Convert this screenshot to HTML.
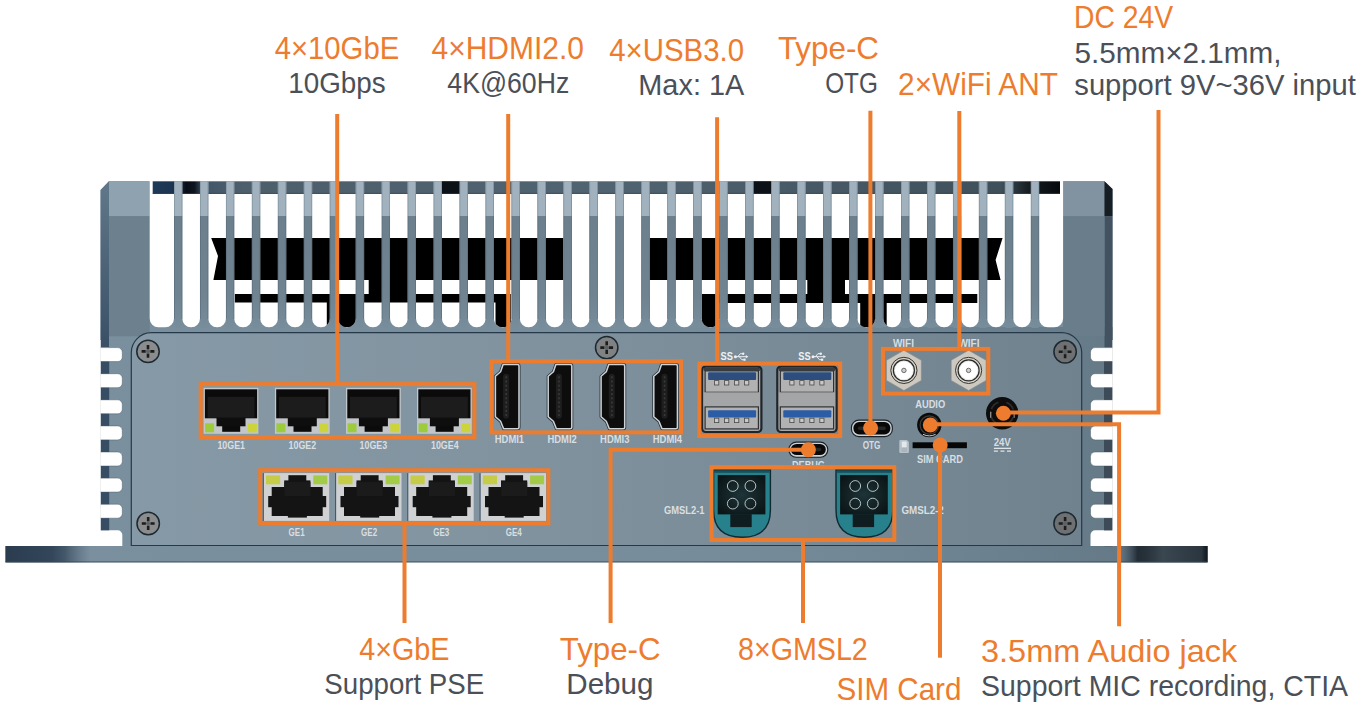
<!DOCTYPE html>
<html lang="en">
<head>
<meta charset="utf-8">
<title>Interface diagram</title>
<style>
html,body{margin:0;padding:0;background:#ffffff;}
body{width:1363px;height:718px;overflow:hidden;font-family:"Liberation Sans",sans-serif;}
svg{display:block;}
svg text{font-family:"Liberation Sans",sans-serif;}
</style>
</head>
<body>
<svg width="1363" height="718" viewBox="0 0 1363 718">
<defs>
<clipPath id="slotclip">
<rect x="149.7" y="170" width="24.3" height="157.3" rx="8.7" ry="8.7"/>
<rect x="182.3" y="170" width="17.7" height="157.3" rx="8.7" ry="8.7"/>
<rect x="208.3" y="170" width="17.7" height="157.3" rx="8.7" ry="8.7"/>
<rect x="234.2" y="170" width="17.7" height="157.3" rx="8.7" ry="8.7"/>
<rect x="260.2" y="170" width="17.7" height="157.3" rx="8.7" ry="8.7"/>
<rect x="286.2" y="170" width="17.7" height="157.3" rx="8.7" ry="8.7"/>
<rect x="312.1" y="170" width="17.7" height="157.3" rx="8.7" ry="8.7"/>
<rect x="338.1" y="170" width="17.7" height="157.3" rx="8.7" ry="8.7"/>
<rect x="364.1" y="170" width="17.7" height="157.3" rx="8.7" ry="8.7"/>
<rect x="390.0" y="170" width="17.7" height="157.3" rx="8.7" ry="8.7"/>
<rect x="416.0" y="170" width="17.7" height="157.3" rx="8.7" ry="8.7"/>
<rect x="441.9" y="170" width="17.7" height="157.3" rx="8.7" ry="8.7"/>
<rect x="467.9" y="170" width="17.7" height="157.3" rx="8.7" ry="8.7"/>
<rect x="493.9" y="170" width="17.7" height="157.3" rx="8.7" ry="8.7"/>
<rect x="519.8" y="170" width="17.7" height="157.3" rx="8.7" ry="8.7"/>
<rect x="545.8" y="170" width="17.7" height="157.3" rx="8.7" ry="8.7"/>
<rect x="571.8" y="170" width="17.7" height="157.3" rx="8.7" ry="8.7"/>
<rect x="597.7" y="170" width="17.7" height="157.3" rx="8.7" ry="8.7"/>
<rect x="623.7" y="170" width="17.7" height="157.3" rx="8.7" ry="8.7"/>
<rect x="649.7" y="170" width="17.7" height="157.3" rx="8.7" ry="8.7"/>
<rect x="675.6" y="170" width="17.7" height="157.3" rx="8.7" ry="8.7"/>
<rect x="701.6" y="170" width="17.7" height="157.3" rx="8.7" ry="8.7"/>
<rect x="727.6" y="170" width="17.7" height="157.3" rx="8.7" ry="8.7"/>
<rect x="753.5" y="170" width="17.7" height="157.3" rx="8.7" ry="8.7"/>
<rect x="779.5" y="170" width="17.7" height="157.3" rx="8.7" ry="8.7"/>
<rect x="805.5" y="170" width="17.7" height="157.3" rx="8.7" ry="8.7"/>
<rect x="831.4" y="170" width="17.7" height="157.3" rx="8.7" ry="8.7"/>
<rect x="857.4" y="170" width="17.7" height="157.3" rx="8.7" ry="8.7"/>
<rect x="883.4" y="170" width="17.7" height="157.3" rx="8.7" ry="8.7"/>
<rect x="909.3" y="170" width="17.7" height="157.3" rx="8.7" ry="8.7"/>
<rect x="935.3" y="170" width="17.7" height="157.3" rx="8.7" ry="8.7"/>
<rect x="961.2" y="170" width="17.7" height="157.3" rx="8.7" ry="8.7"/>
<rect x="987.2" y="170" width="17.7" height="157.3" rx="8.7" ry="8.7"/>
<rect x="1013.2" y="170" width="17.7" height="157.3" rx="8.7" ry="8.7"/>
<rect x="1039.1" y="170" width="24.0" height="157.3" rx="8.7" ry="8.7"/>
</clipPath>
<linearGradient id="plateL" x1="0" x2="1" y1="0" y2="0"><stop offset="0" stop-color="#2b3c4f"/><stop offset="0.55" stop-color="#33465a"/><stop offset="0.7" stop-color="#3a4e61" stop-opacity="0.85"/><stop offset="1" stop-color="#4a5f70" stop-opacity="0"/></linearGradient>
<linearGradient id="plateR" x1="0" x2="1" y1="0" y2="0"><stop offset="0" stop-color="#4a5a66" stop-opacity="0"/><stop offset="0.22" stop-color="#222d36"/><stop offset="0.32" stop-color="#27323b"/><stop offset="0.5" stop-color="#3a4650"/><stop offset="0.93" stop-color="#2b363f"/><stop offset="1" stop-color="#10161b"/></linearGradient>
<linearGradient id="bandG" x1="0" x2="1" y1="0" y2="0"><stop offset="0" stop-color="#1e3a58"/><stop offset="0.027" stop-color="#1b3350"/><stop offset="0.037" stop-color="#070d16"/><stop offset="0.046" stop-color="#0d1620"/><stop offset="0.056" stop-color="#43566a"/><stop offset="0.1" stop-color="#4d5f6b"/><stop offset="0.5" stop-color="#506370"/><stop offset="0.935" stop-color="#3f505b"/><stop offset="0.965" stop-color="#161d23"/><stop offset="1" stop-color="#070a0d"/></linearGradient>
<linearGradient id="panelG" gradientUnits="userSpaceOnUse" x1="131" x2="1082" y1="0" y2="0"><stop offset="0" stop-color="#8699a6"/><stop offset="0.35" stop-color="#8194a0"/><stop offset="0.65" stop-color="#798c98"/><stop offset="1" stop-color="#6f828e"/></linearGradient>
<radialGradient id="gmslG" cx="0.5" cy="0.5" r="0.6"><stop offset="0" stop-color="#1d3438"/><stop offset="1" stop-color="#0c1618"/></radialGradient>
<linearGradient id="bodyG" gradientUnits="userSpaceOnUse" x1="0" x2="0" y1="181" y2="546"><stop offset="0" stop-color="#6c808d"/><stop offset="0.30" stop-color="#6e828f"/><stop offset="0.40" stop-color="#788E9D"/><stop offset="1" stop-color="#788E9D"/></linearGradient>
<linearGradient id="stripL" gradientUnits="userSpaceOnUse" x1="0" x2="0" y1="190" y2="345"><stop offset="0" stop-color="#5f7688"/><stop offset="1" stop-color="#3a5067"/></linearGradient>
<linearGradient id="finG" gradientUnits="userSpaceOnUse" x1="0" x2="0" y1="216" y2="330"><stop offset="0" stop-color="#6c7f8c"/><stop offset="0.7" stop-color="#6f8390"/><stop offset="1" stop-color="#788E9D"/></linearGradient>
<linearGradient id="bodyH" gradientUnits="userSpaceOnUse" x1="100" x2="1112" y1="0" y2="0"><stop offset="0" stop-color="#8093a1" stop-opacity="0.35"/><stop offset="0.4" stop-color="#788E9D" stop-opacity="0"/><stop offset="1" stop-color="#5f7380" stop-opacity="0.75"/></linearGradient>
</defs>
<rect x="5.5" y="546" width="1202" height="16.3" fill="#788E9D"/>
<path d="M100.6 190 L109 181.3 L1104.5 181.3 L1112.5 189 L1112.5 546.3 L100.6 546.3 Z" fill="url(#bodyG)"/>
<rect x="100.6" y="327" width="1012" height="219.3" fill="url(#bodyH)"/>
<rect x="5.5" y="546" width="1202" height="16.3" fill="url(#bodyH)"/>
<rect x="5.5" y="546" width="85" height="16.3" fill="url(#plateL)"/>
<rect x="1118" y="546" width="89.6" height="16.3" fill="url(#plateR)"/>
<rect x="5.5" y="561.3" width="1202" height="1.2" fill="#3a4a56" opacity="0.7"/>
<rect x="109" y="181.3" width="40.7" height="35" fill="#8FA2AF"/>
<path d="M100.6 190 L109 181.3 L109 347 L100.6 347 Z" fill="url(#stripL)"/>
<rect x="109" y="216.3" width="40.7" height="120" fill="#6c808d"/>
<rect x="1063.1" y="181.3" width="41.4" height="35" fill="#8193A0"/>
<path d="M1104.5 181.3 L1112.5 189 L1112.5 216.3 L1104.5 216.3 Z" fill="#161d23"/>
<rect x="1104.5" y="216.3" width="8" height="330" fill="#435260"/>
<rect x="1063.1" y="216.3" width="41.4" height="120" fill="#697d8a"/>
<g clip-path="url(#slotclip)">
<rect x="149" y="181" width="915" height="147" fill="#ffffff"/>
<path d="M211.2 238 L563.5 238 L563.5 280 L414.7 280 L414.7 294 L510.8 294 L510.8 327 L495.5 327 L495.5 302.6 L356 302.6 L356 327 L326.8 327 L326.8 302.6 L234.8 302.6 L234.8 294 L368.7 294 L368.7 280 L213.4 280 L218 256 Z" fill="#000"/>
<path d="M649.3 238 L1002.6 238 L995.6 260 L1000.6 280 L845 280 L845 294 L977.3 294 L977.3 303 L886.7 303 L886.7 327 L860.2 327 L860.2 303 L716.7 303 L716.7 327 L701.9 327 L701.9 294 L807.3 294 L807.3 280 L649.3 280 Z" fill="#000"/>
<rect x="152.7" y="181.3" width="907.3" height="12.6" fill="url(#bandG)"/>
<rect x="441" y="181.3" width="19" height="12.6" fill="#0b1117"/>
<rect x="753" y="181.3" width="19" height="12.6" fill="#0b1117"/>
<rect x="152.7" y="192.9" width="907.3" height="1" fill="#2c3a45" opacity="0.6"/>
</g>
<rect x="174.00" y="181.3" width="8.3" height="35" fill="#7f929f"/>
<rect x="174.70" y="181.3" width="6.9" height="34.7" fill="#A1B2BE"/>
<rect x="174.00" y="216" width="8.3" height="103" fill="#5b6d7a"/>
<rect x="174.70" y="216" width="6.9" height="112" fill="url(#finG)"/>
<rect x="199.97" y="181.3" width="8.3" height="35" fill="#7f929f"/>
<rect x="200.66" y="181.3" width="6.9" height="34.7" fill="#A1B2BE"/>
<rect x="199.97" y="216" width="8.3" height="103" fill="#5b6d7a"/>
<rect x="200.66" y="216" width="6.9" height="112" fill="url(#finG)"/>
<rect x="225.93" y="181.3" width="8.3" height="35" fill="#7f929f"/>
<rect x="226.63" y="181.3" width="6.9" height="34.7" fill="#A1B2BE"/>
<rect x="225.93" y="216" width="8.3" height="103" fill="#5b6d7a"/>
<rect x="226.63" y="216" width="6.9" height="112" fill="url(#finG)"/>
<rect x="251.89" y="181.3" width="8.3" height="35" fill="#7f929f"/>
<rect x="252.59" y="181.3" width="6.9" height="34.7" fill="#A1B2BE"/>
<rect x="251.89" y="216" width="8.3" height="103" fill="#5b6d7a"/>
<rect x="252.59" y="216" width="6.9" height="112" fill="url(#finG)"/>
<rect x="277.86" y="181.3" width="8.3" height="35" fill="#7f929f"/>
<rect x="278.56" y="181.3" width="6.9" height="34.7" fill="#A1B2BE"/>
<rect x="277.86" y="216" width="8.3" height="103" fill="#5b6d7a"/>
<rect x="278.56" y="216" width="6.9" height="112" fill="url(#finG)"/>
<rect x="303.82" y="181.3" width="8.3" height="35" fill="#7f929f"/>
<rect x="304.52" y="181.3" width="6.9" height="34.7" fill="#A1B2BE"/>
<rect x="303.82" y="216" width="8.3" height="103" fill="#5b6d7a"/>
<rect x="304.52" y="216" width="6.9" height="112" fill="url(#finG)"/>
<rect x="329.79" y="181.3" width="8.3" height="35" fill="#7f929f"/>
<rect x="330.49" y="181.3" width="6.9" height="34.7" fill="#A1B2BE"/>
<rect x="329.79" y="216" width="8.3" height="103" fill="#5b6d7a"/>
<rect x="330.49" y="216" width="6.9" height="112" fill="url(#finG)"/>
<rect x="355.75" y="181.3" width="8.3" height="35" fill="#7f929f"/>
<rect x="356.45" y="181.3" width="6.9" height="34.7" fill="#A1B2BE"/>
<rect x="355.75" y="216" width="8.3" height="103" fill="#5b6d7a"/>
<rect x="356.45" y="216" width="6.9" height="112" fill="url(#finG)"/>
<rect x="381.72" y="181.3" width="8.3" height="35" fill="#7f929f"/>
<rect x="382.42" y="181.3" width="6.9" height="34.7" fill="#A1B2BE"/>
<rect x="381.72" y="216" width="8.3" height="103" fill="#5b6d7a"/>
<rect x="382.42" y="216" width="6.9" height="112" fill="url(#finG)"/>
<rect x="407.69" y="181.3" width="8.3" height="35" fill="#7f929f"/>
<rect x="408.38" y="181.3" width="6.9" height="34.7" fill="#A1B2BE"/>
<rect x="407.69" y="216" width="8.3" height="103" fill="#5b6d7a"/>
<rect x="408.38" y="216" width="6.9" height="112" fill="url(#finG)"/>
<rect x="433.65" y="181.3" width="8.3" height="35" fill="#7f929f"/>
<rect x="434.35" y="181.3" width="6.9" height="34.7" fill="#A1B2BE"/>
<rect x="433.65" y="216" width="8.3" height="103" fill="#5b6d7a"/>
<rect x="434.35" y="216" width="6.9" height="112" fill="url(#finG)"/>
<rect x="459.62" y="181.3" width="8.3" height="35" fill="#7f929f"/>
<rect x="460.31" y="181.3" width="6.9" height="34.7" fill="#A1B2BE"/>
<rect x="459.62" y="216" width="8.3" height="103" fill="#5b6d7a"/>
<rect x="460.31" y="216" width="6.9" height="112" fill="url(#finG)"/>
<rect x="485.58" y="181.3" width="8.3" height="35" fill="#7f929f"/>
<rect x="486.28" y="181.3" width="6.9" height="34.7" fill="#A1B2BE"/>
<rect x="485.58" y="216" width="8.3" height="103" fill="#5b6d7a"/>
<rect x="486.28" y="216" width="6.9" height="112" fill="url(#finG)"/>
<rect x="511.55" y="181.3" width="8.3" height="35" fill="#7f929f"/>
<rect x="512.25" y="181.3" width="6.9" height="34.7" fill="#A1B2BE"/>
<rect x="511.55" y="216" width="8.3" height="103" fill="#5b6d7a"/>
<rect x="512.25" y="216" width="6.9" height="112" fill="url(#finG)"/>
<rect x="537.51" y="181.3" width="8.3" height="35" fill="#7f929f"/>
<rect x="538.21" y="181.3" width="6.9" height="34.7" fill="#A1B2BE"/>
<rect x="537.51" y="216" width="8.3" height="103" fill="#5b6d7a"/>
<rect x="538.21" y="216" width="6.9" height="112" fill="url(#finG)"/>
<rect x="563.48" y="181.3" width="8.3" height="35" fill="#7f929f"/>
<rect x="564.18" y="181.3" width="6.9" height="34.7" fill="#A1B2BE"/>
<rect x="563.48" y="216" width="8.3" height="103" fill="#5b6d7a"/>
<rect x="564.18" y="216" width="6.9" height="112" fill="url(#finG)"/>
<rect x="589.44" y="181.3" width="8.3" height="35" fill="#7f929f"/>
<rect x="590.14" y="181.3" width="6.9" height="34.7" fill="#A1B2BE"/>
<rect x="589.44" y="216" width="8.3" height="103" fill="#5b6d7a"/>
<rect x="590.14" y="216" width="6.9" height="112" fill="url(#finG)"/>
<rect x="615.40" y="181.3" width="8.3" height="35" fill="#7f929f"/>
<rect x="616.11" y="181.3" width="6.9" height="34.7" fill="#A1B2BE"/>
<rect x="615.40" y="216" width="8.3" height="103" fill="#5b6d7a"/>
<rect x="616.11" y="216" width="6.9" height="112" fill="url(#finG)"/>
<rect x="641.37" y="181.3" width="8.3" height="35" fill="#7f929f"/>
<rect x="642.07" y="181.3" width="6.9" height="34.7" fill="#A1B2BE"/>
<rect x="641.37" y="216" width="8.3" height="103" fill="#5b6d7a"/>
<rect x="642.07" y="216" width="6.9" height="112" fill="url(#finG)"/>
<rect x="667.34" y="181.3" width="8.3" height="35" fill="#7f929f"/>
<rect x="668.04" y="181.3" width="6.9" height="34.7" fill="#A1B2BE"/>
<rect x="667.34" y="216" width="8.3" height="103" fill="#5b6d7a"/>
<rect x="668.04" y="216" width="6.9" height="112" fill="url(#finG)"/>
<rect x="693.30" y="181.3" width="8.3" height="35" fill="#7f929f"/>
<rect x="694.00" y="181.3" width="6.9" height="34.7" fill="#A1B2BE"/>
<rect x="693.30" y="216" width="8.3" height="103" fill="#5b6d7a"/>
<rect x="694.00" y="216" width="6.9" height="112" fill="url(#finG)"/>
<rect x="719.26" y="181.3" width="8.3" height="35" fill="#7f929f"/>
<rect x="719.97" y="181.3" width="6.9" height="34.7" fill="#A1B2BE"/>
<rect x="719.26" y="216" width="8.3" height="103" fill="#5b6d7a"/>
<rect x="719.97" y="216" width="6.9" height="112" fill="url(#finG)"/>
<rect x="745.23" y="181.3" width="8.3" height="35" fill="#7f929f"/>
<rect x="745.93" y="181.3" width="6.9" height="34.7" fill="#A1B2BE"/>
<rect x="745.23" y="216" width="8.3" height="103" fill="#5b6d7a"/>
<rect x="745.93" y="216" width="6.9" height="112" fill="url(#finG)"/>
<rect x="771.20" y="181.3" width="8.3" height="35" fill="#7f929f"/>
<rect x="771.90" y="181.3" width="6.9" height="34.7" fill="#A1B2BE"/>
<rect x="771.20" y="216" width="8.3" height="103" fill="#5b6d7a"/>
<rect x="771.90" y="216" width="6.9" height="112" fill="url(#finG)"/>
<rect x="797.16" y="181.3" width="8.3" height="35" fill="#7f929f"/>
<rect x="797.86" y="181.3" width="6.9" height="34.7" fill="#A1B2BE"/>
<rect x="797.16" y="216" width="8.3" height="103" fill="#5b6d7a"/>
<rect x="797.86" y="216" width="6.9" height="112" fill="url(#finG)"/>
<rect x="823.12" y="181.3" width="8.3" height="35" fill="#7f929f"/>
<rect x="823.83" y="181.3" width="6.9" height="34.7" fill="#A1B2BE"/>
<rect x="823.12" y="216" width="8.3" height="103" fill="#5b6d7a"/>
<rect x="823.83" y="216" width="6.9" height="112" fill="url(#finG)"/>
<rect x="849.09" y="181.3" width="8.3" height="35" fill="#7f929f"/>
<rect x="849.79" y="181.3" width="6.9" height="34.7" fill="#A1B2BE"/>
<rect x="849.09" y="216" width="8.3" height="103" fill="#5b6d7a"/>
<rect x="849.79" y="216" width="6.9" height="112" fill="url(#finG)"/>
<rect x="875.05" y="181.3" width="8.3" height="35" fill="#7f929f"/>
<rect x="875.75" y="181.3" width="6.9" height="34.7" fill="#A1B2BE"/>
<rect x="875.05" y="216" width="8.3" height="103" fill="#5b6d7a"/>
<rect x="875.75" y="216" width="6.9" height="112" fill="url(#finG)"/>
<rect x="901.02" y="181.3" width="8.3" height="35" fill="#7f929f"/>
<rect x="901.72" y="181.3" width="6.9" height="34.7" fill="#A1B2BE"/>
<rect x="901.02" y="216" width="8.3" height="103" fill="#5b6d7a"/>
<rect x="901.72" y="216" width="6.9" height="112" fill="url(#finG)"/>
<rect x="926.99" y="181.3" width="8.3" height="35" fill="#7f929f"/>
<rect x="927.69" y="181.3" width="6.9" height="34.7" fill="#A1B2BE"/>
<rect x="926.99" y="216" width="8.3" height="103" fill="#5b6d7a"/>
<rect x="927.69" y="216" width="6.9" height="112" fill="url(#finG)"/>
<rect x="952.95" y="181.3" width="8.3" height="35" fill="#7f929f"/>
<rect x="953.65" y="181.3" width="6.9" height="34.7" fill="#A1B2BE"/>
<rect x="952.95" y="216" width="8.3" height="103" fill="#5b6d7a"/>
<rect x="953.65" y="216" width="6.9" height="112" fill="url(#finG)"/>
<rect x="978.91" y="181.3" width="8.3" height="35" fill="#7f929f"/>
<rect x="979.62" y="181.3" width="6.9" height="34.7" fill="#A1B2BE"/>
<rect x="978.91" y="216" width="8.3" height="103" fill="#5b6d7a"/>
<rect x="979.62" y="216" width="6.9" height="112" fill="url(#finG)"/>
<rect x="1004.88" y="181.3" width="8.3" height="35" fill="#7f929f"/>
<rect x="1005.58" y="181.3" width="6.9" height="34.7" fill="#A1B2BE"/>
<rect x="1004.88" y="216" width="8.3" height="103" fill="#5b6d7a"/>
<rect x="1005.58" y="216" width="6.9" height="112" fill="url(#finG)"/>
<rect x="1030.85" y="181.3" width="8.3" height="35" fill="#7f929f"/>
<rect x="1031.55" y="181.3" width="6.9" height="34.7" fill="#A1B2BE"/>
<rect x="1030.85" y="216" width="8.3" height="103" fill="#5b6d7a"/>
<rect x="1031.55" y="216" width="6.9" height="112" fill="url(#finG)"/>
<path d="M100 347.6 H117.7 a4.6 4.6 0 0 1 4.6 4.6 V357.0 a4.6 4.6 0 0 1 -4.6 4.6 H100 Z" fill="#fff" stroke="#4a5d6b" stroke-width="0.5"/>
<path d="M1113 347.6 H1095.1 a4.6 4.6 0 0 0 -4.6 4.6 V357.0 a4.6 4.6 0 0 0 4.6 4.6 H1113 Z" fill="#fff" stroke="#4a5d6b" stroke-width="0.5"/>
<path d="M100 373.7 H117.7 a4.6 4.6 0 0 1 4.6 4.6 V383.1 a4.6 4.6 0 0 1 -4.6 4.6 H100 Z" fill="#fff" stroke="#4a5d6b" stroke-width="0.5"/>
<path d="M1113 373.7 H1095.1 a4.6 4.6 0 0 0 -4.6 4.6 V383.1 a4.6 4.6 0 0 0 4.6 4.6 H1113 Z" fill="#fff" stroke="#4a5d6b" stroke-width="0.5"/>
<path d="M100 399.8 H117.7 a4.6 4.6 0 0 1 4.6 4.6 V409.2 a4.6 4.6 0 0 1 -4.6 4.6 H100 Z" fill="#fff" stroke="#4a5d6b" stroke-width="0.5"/>
<path d="M1113 399.8 H1095.1 a4.6 4.6 0 0 0 -4.6 4.6 V409.2 a4.6 4.6 0 0 0 4.6 4.6 H1113 Z" fill="#fff" stroke="#4a5d6b" stroke-width="0.5"/>
<path d="M100 425.9 H117.7 a4.6 4.6 0 0 1 4.6 4.6 V435.3 a4.6 4.6 0 0 1 -4.6 4.6 H100 Z" fill="#fff" stroke="#4a5d6b" stroke-width="0.5"/>
<path d="M1113 425.9 H1095.1 a4.6 4.6 0 0 0 -4.6 4.6 V435.3 a4.6 4.6 0 0 0 4.6 4.6 H1113 Z" fill="#fff" stroke="#4a5d6b" stroke-width="0.5"/>
<path d="M100 452.0 H117.7 a4.6 4.6 0 0 1 4.6 4.6 V461.4 a4.6 4.6 0 0 1 -4.6 4.6 H100 Z" fill="#fff" stroke="#4a5d6b" stroke-width="0.5"/>
<path d="M1113 452.0 H1095.1 a4.6 4.6 0 0 0 -4.6 4.6 V461.4 a4.6 4.6 0 0 0 4.6 4.6 H1113 Z" fill="#fff" stroke="#4a5d6b" stroke-width="0.5"/>
<path d="M100 478.1 H117.7 a4.6 4.6 0 0 1 4.6 4.6 V487.5 a4.6 4.6 0 0 1 -4.6 4.6 H100 Z" fill="#fff" stroke="#4a5d6b" stroke-width="0.5"/>
<path d="M1113 478.1 H1095.1 a4.6 4.6 0 0 0 -4.6 4.6 V487.5 a4.6 4.6 0 0 0 4.6 4.6 H1113 Z" fill="#fff" stroke="#4a5d6b" stroke-width="0.5"/>
<path d="M100 504.2 H117.7 a4.6 4.6 0 0 1 4.6 4.6 V513.6 a4.6 4.6 0 0 1 -4.6 4.6 H100 Z" fill="#fff" stroke="#4a5d6b" stroke-width="0.5"/>
<path d="M1113 504.2 H1095.1 a4.6 4.6 0 0 0 -4.6 4.6 V513.6 a4.6 4.6 0 0 0 4.6 4.6 H1113 Z" fill="#fff" stroke="#4a5d6b" stroke-width="0.5"/>
<path d="M100 530.3 H117.7 a4.6 4.6 0 0 1 4.6 4.6 V546 H100 Z" fill="#fff"/>
<path d="M1113 530.3 H1095.1 a4.6 4.6 0 0 0 -4.6 4.6 V546 H1113 Z" fill="#fff"/>
<rect x="100.6" y="361.6" width="8.6" height="12.1" fill="#364d63"/>
<rect x="1104" y="361.6" width="8.5" height="12.1" fill="#3d4b58"/>
<rect x="100.6" y="387.7" width="8.6" height="12.1" fill="#364d63"/>
<rect x="1104" y="387.7" width="8.5" height="12.1" fill="#3d4b58"/>
<rect x="100.6" y="413.8" width="8.6" height="12.1" fill="#364d63"/>
<rect x="1104" y="413.8" width="8.5" height="12.1" fill="#3d4b58"/>
<rect x="100.6" y="439.9" width="8.6" height="12.1" fill="#364d63"/>
<rect x="1104" y="439.9" width="8.5" height="12.1" fill="#3d4b58"/>
<rect x="100.6" y="466.0" width="8.6" height="12.1" fill="#364d63"/>
<rect x="1104" y="466.0" width="8.5" height="12.1" fill="#3d4b58"/>
<rect x="100.6" y="492.1" width="8.6" height="12.1" fill="#364d63"/>
<rect x="1104" y="492.1" width="8.5" height="12.1" fill="#3d4b58"/>
<rect x="100.6" y="518.2" width="8.6" height="12.1" fill="#364d63"/>
<rect x="1104" y="518.2" width="8.5" height="12.1" fill="#3d4b58"/>
<rect x="80" y="340" width="20.6" height="206" fill="#fff"/>
<rect x="1112.5" y="340" width="20" height="206" fill="#fff"/>
<path d="M131.3 545.5 L131.3 352.7 A20 20 0 0 1 151.3 332.7 L1061.7 332.7 A20 20 0 0 1 1081.7 352.7 L1081.7 545.5 Z" fill="url(#panelG)" stroke="#26394a" stroke-width="1.2"/>
<circle cx="148" cy="351.4" r="11.2" fill="#8a8c8d" stroke="#1c2830" stroke-width="1.5"/>
<path d="M141.6 351.4 H145.8 M150.2 351.4 H154.4 M148 345.0 V349.2 M148 353.59999999999997 V357.79999999999995" stroke="#1a1c1e" stroke-width="2.6"/>
<path d="M145.6 351.4 H150.4 M148 349.0 V353.79999999999995" stroke="#5e6062" stroke-width="2.2"/>
<circle cx="148.2" cy="523.5" r="11.2" fill="#8a8c8d" stroke="#1c2830" stroke-width="1.5"/>
<path d="M141.79999999999998 523.5 H146.0 M150.39999999999998 523.5 H154.6 M148.2 517.1 V521.3 M148.2 525.7 V529.9" stroke="#1a1c1e" stroke-width="2.6"/>
<path d="M145.79999999999998 523.5 H150.6 M148.2 521.1 V525.9" stroke="#5e6062" stroke-width="2.2"/>
<circle cx="606.7" cy="347.6" r="11.2" fill="#7f8182" stroke="#1c2830" stroke-width="1.5"/>
<path d="M600.3000000000001 347.6 H604.5 M608.9000000000001 347.6 H613.1 M606.7 341.20000000000005 V345.40000000000003 M606.7 349.8 V354.0" stroke="#1a1c1e" stroke-width="2.6"/>
<path d="M604.3000000000001 347.6 H609.1 M606.7 345.20000000000005 V350.0" stroke="#5e6062" stroke-width="2.2"/>
<circle cx="1065.1" cy="351.8" r="11.2" fill="#6e7072" stroke="#1c2830" stroke-width="1.5"/>
<path d="M1058.6999999999998 351.8 H1062.8999999999999 M1067.3 351.8 H1071.5 M1065.1 345.40000000000003 V349.6 M1065.1 354.0 V358.2" stroke="#1a1c1e" stroke-width="2.6"/>
<path d="M1062.6999999999998 351.8 H1067.5 M1065.1 349.40000000000003 V354.2" stroke="#5e6062" stroke-width="2.2"/>
<circle cx="1065.1" cy="523.5" r="11.2" fill="#6e7072" stroke="#1c2830" stroke-width="1.5"/>
<path d="M1058.6999999999998 523.5 H1062.8999999999999 M1067.3 523.5 H1071.5 M1065.1 517.1 V521.3 M1065.1 525.7 V529.9" stroke="#1a1c1e" stroke-width="2.6"/>
<path d="M1062.6999999999998 523.5 H1067.5 M1065.1 521.1 V525.9" stroke="#5e6062" stroke-width="2.2"/>
<rect x="203.6" y="387.8" width="54.8" height="46" fill="#c3c6c9"/>
<rect x="204.9" y="389.3" width="52.2" height="29" fill="#0b0b0b"/>
<rect x="207.6" y="396.8" width="46.8" height="21" fill="#1c1c1c"/>
<rect x="216.5" y="417.8" width="29" height="8.5" fill="#0e0e0e"/>
<rect x="222.2" y="425.8" width="18" height="6" fill="#0b0b0b"/>
<rect x="205.1" y="423.3" width="9" height="9" fill="#9ccb3c"/>
<rect x="247.89999999999998" y="423.3" width="9" height="9" fill="#cdd43a"/>
<text x="217.4" y="448.5" font-size="10.3" font-weight="bold" fill="#d9dee1" textLength="27.6" lengthAdjust="spacingAndGlyphs">10GE1</text>
<rect x="274.9" y="387.8" width="54.8" height="46" fill="#c3c6c9"/>
<rect x="276.2" y="389.3" width="52.2" height="29" fill="#0b0b0b"/>
<rect x="278.9" y="396.8" width="46.8" height="21" fill="#1c1c1c"/>
<rect x="287.79999999999995" y="417.8" width="29" height="8.5" fill="#0e0e0e"/>
<rect x="293.5" y="425.8" width="18" height="6" fill="#0b0b0b"/>
<rect x="276.4" y="423.3" width="9" height="9" fill="#9ccb3c"/>
<rect x="319.2" y="423.3" width="9" height="9" fill="#cdd43a"/>
<text x="288.6" y="448.5" font-size="10.3" font-weight="bold" fill="#d9dee1" textLength="27.6" lengthAdjust="spacingAndGlyphs">10GE2</text>
<rect x="346.0" y="387.8" width="54.8" height="46" fill="#c3c6c9"/>
<rect x="347.3" y="389.3" width="52.2" height="29" fill="#0b0b0b"/>
<rect x="350.0" y="396.8" width="46.8" height="21" fill="#1c1c1c"/>
<rect x="358.9" y="417.8" width="29" height="8.5" fill="#0e0e0e"/>
<rect x="364.6" y="425.8" width="18" height="6" fill="#0b0b0b"/>
<rect x="347.5" y="423.3" width="9" height="9" fill="#9ccb3c"/>
<rect x="390.3" y="423.3" width="9" height="9" fill="#cdd43a"/>
<text x="359.6" y="448.5" font-size="10.3" font-weight="bold" fill="#d9dee1" textLength="27.6" lengthAdjust="spacingAndGlyphs">10GE3</text>
<rect x="417.0" y="387.8" width="54.8" height="46" fill="#c3c6c9"/>
<rect x="418.3" y="389.3" width="52.2" height="29" fill="#0b0b0b"/>
<rect x="421.0" y="396.8" width="46.8" height="21" fill="#1c1c1c"/>
<rect x="429.9" y="417.8" width="29" height="8.5" fill="#0e0e0e"/>
<rect x="435.6" y="425.8" width="18" height="6" fill="#0b0b0b"/>
<rect x="418.5" y="423.3" width="9" height="9" fill="#9ccb3c"/>
<rect x="461.3" y="423.3" width="9" height="9" fill="#cdd43a"/>
<text x="431.0" y="448.5" font-size="10.3" font-weight="bold" fill="#d9dee1" textLength="27.6" lengthAdjust="spacingAndGlyphs">10GE4</text>
<rect x="262.7" y="473.1" width="1.4" height="47.8" fill="#44596b"/>
<rect x="263.9" y="473.1" width="65.3" height="47.8" fill="#cfd1d3"/>
<rect x="266.0" y="475.40000000000003" width="14.2" height="8.9" fill="#c6cc48"/>
<rect x="313.29999999999995" y="475.40000000000003" width="14" height="8.9" fill="#a2cc47"/>
<rect x="288.4" y="475.20000000000005" width="17.9" height="6" fill="#141414"/>
<rect x="284.2" y="480.40000000000003" width="26.2" height="7" fill="#141414"/>
<rect x="271.7" y="487.0" width="51" height="29" fill="#141414"/>
<rect x="268.2" y="496.0" width="58" height="11.2" fill="#141414"/>
<rect x="287.9" y="515.6" width="19" height="2" fill="#141414"/>
<rect x="284.4" y="482.1" width="26" height="14" fill="#1b1b1b"/>
<text x="288.6" y="536.1" font-size="10.3" font-weight="bold" fill="#d9dee1" textLength="16.0" lengthAdjust="spacingAndGlyphs">GE1</text>
<rect x="335.0" y="473.1" width="1.4" height="47.8" fill="#44596b"/>
<rect x="336.2" y="473.1" width="65.3" height="47.8" fill="#cfd1d3"/>
<rect x="338.3" y="475.40000000000003" width="14.2" height="8.9" fill="#c6cc48"/>
<rect x="385.59999999999997" y="475.40000000000003" width="14" height="8.9" fill="#a2cc47"/>
<rect x="360.7" y="475.20000000000005" width="17.9" height="6" fill="#141414"/>
<rect x="356.5" y="480.40000000000003" width="26.2" height="7" fill="#141414"/>
<rect x="344.0" y="487.0" width="51" height="29" fill="#141414"/>
<rect x="340.5" y="496.0" width="58" height="11.2" fill="#141414"/>
<rect x="360.2" y="515.6" width="19" height="2" fill="#141414"/>
<rect x="356.7" y="482.1" width="26" height="14" fill="#1b1b1b"/>
<text x="361.1" y="536.1" font-size="10.3" font-weight="bold" fill="#d9dee1" textLength="16.0" lengthAdjust="spacingAndGlyphs">GE2</text>
<rect x="407.2" y="473.1" width="1.4" height="47.8" fill="#44596b"/>
<rect x="408.4" y="473.1" width="65.3" height="47.8" fill="#cfd1d3"/>
<rect x="410.5" y="475.40000000000003" width="14.2" height="8.9" fill="#c6cc48"/>
<rect x="457.79999999999995" y="475.40000000000003" width="14" height="8.9" fill="#a2cc47"/>
<rect x="432.9" y="475.20000000000005" width="17.9" height="6" fill="#141414"/>
<rect x="428.7" y="480.40000000000003" width="26.2" height="7" fill="#141414"/>
<rect x="416.2" y="487.0" width="51" height="29" fill="#141414"/>
<rect x="412.7" y="496.0" width="58" height="11.2" fill="#141414"/>
<rect x="432.4" y="515.6" width="19" height="2" fill="#141414"/>
<rect x="428.9" y="482.1" width="26" height="14" fill="#1b1b1b"/>
<text x="433.3" y="536.1" font-size="10.3" font-weight="bold" fill="#d9dee1" textLength="16.0" lengthAdjust="spacingAndGlyphs">GE3</text>
<rect x="479.5" y="473.1" width="1.4" height="47.8" fill="#44596b"/>
<rect x="480.7" y="473.1" width="65.3" height="47.8" fill="#cfd1d3"/>
<rect x="482.8" y="475.40000000000003" width="14.2" height="8.9" fill="#c6cc48"/>
<rect x="530.1" y="475.40000000000003" width="14" height="8.9" fill="#a2cc47"/>
<rect x="505.2" y="475.20000000000005" width="17.9" height="6" fill="#141414"/>
<rect x="501.0" y="480.40000000000003" width="26.2" height="7" fill="#141414"/>
<rect x="488.5" y="487.0" width="51" height="29" fill="#141414"/>
<rect x="485.0" y="496.0" width="58" height="11.2" fill="#141414"/>
<rect x="504.7" y="515.6" width="19" height="2" fill="#141414"/>
<rect x="501.2" y="482.1" width="26" height="14" fill="#1b1b1b"/>
<text x="505.8" y="536.1" font-size="10.3" font-weight="bold" fill="#d9dee1" textLength="16.0" lengthAdjust="spacingAndGlyphs">GE4</text>
<path d="M503.1 364.40000000000003 H517.5 Q519.0 364.40000000000003 519.0 365.90000000000003 V427.2 Q519.0 428.7 517.5 428.7 H503.6 L500.6 421.3 L495.40000000000003 416.8 V376.3 L500.6 371.8 Z" fill="none" stroke="#27313a" stroke-width="3" stroke-linejoin="round"/>
<path d="M503.1 364.40000000000003 H517.5 Q519.0 364.40000000000003 519.0 365.90000000000003 V427.2 Q519.0 428.7 517.5 428.7 H503.6 L500.6 421.3 L495.40000000000003 416.8 V376.3 L500.6 371.8 Z" fill="#0d0d0d" stroke="#cfd2d4" stroke-width="1.5" stroke-linejoin="round"/>
<rect x="503.1" y="373.8" width="6" height="45" rx="3" fill="#1e1e1e"/>
<rect x="505.40000000000003" y="376.3" width="1.6" height="2" fill="#3a3a3a"/>
<rect x="505.40000000000003" y="380.5" width="1.6" height="2" fill="#3a3a3a"/>
<rect x="505.40000000000003" y="384.7" width="1.6" height="2" fill="#3a3a3a"/>
<rect x="505.40000000000003" y="388.9" width="1.6" height="2" fill="#3a3a3a"/>
<rect x="505.40000000000003" y="393.1" width="1.6" height="2" fill="#3a3a3a"/>
<rect x="505.40000000000003" y="397.3" width="1.6" height="2" fill="#3a3a3a"/>
<rect x="505.40000000000003" y="401.5" width="1.6" height="2" fill="#3a3a3a"/>
<rect x="505.40000000000003" y="405.7" width="1.6" height="2" fill="#3a3a3a"/>
<rect x="505.40000000000003" y="409.9" width="1.6" height="2" fill="#3a3a3a"/>
<rect x="505.40000000000003" y="414.1" width="1.6" height="2" fill="#3a3a3a"/>
<text x="494.8" y="443.2" font-size="10.3" font-weight="bold" fill="#d9dee1" textLength="29.3" lengthAdjust="spacingAndGlyphs">HDMI1</text>
<path d="M555.9 364.40000000000003 H570.3 Q571.8 364.40000000000003 571.8 365.90000000000003 V427.2 Q571.8 428.7 570.3 428.7 H556.4 L553.4 421.3 L548.1999999999999 416.8 V376.3 L553.4 371.8 Z" fill="none" stroke="#27313a" stroke-width="3" stroke-linejoin="round"/>
<path d="M555.9 364.40000000000003 H570.3 Q571.8 364.40000000000003 571.8 365.90000000000003 V427.2 Q571.8 428.7 570.3 428.7 H556.4 L553.4 421.3 L548.1999999999999 416.8 V376.3 L553.4 371.8 Z" fill="#0d0d0d" stroke="#cfd2d4" stroke-width="1.5" stroke-linejoin="round"/>
<rect x="555.9" y="373.8" width="6" height="45" rx="3" fill="#1e1e1e"/>
<rect x="558.1999999999999" y="376.3" width="1.6" height="2" fill="#3a3a3a"/>
<rect x="558.1999999999999" y="380.5" width="1.6" height="2" fill="#3a3a3a"/>
<rect x="558.1999999999999" y="384.7" width="1.6" height="2" fill="#3a3a3a"/>
<rect x="558.1999999999999" y="388.9" width="1.6" height="2" fill="#3a3a3a"/>
<rect x="558.1999999999999" y="393.1" width="1.6" height="2" fill="#3a3a3a"/>
<rect x="558.1999999999999" y="397.3" width="1.6" height="2" fill="#3a3a3a"/>
<rect x="558.1999999999999" y="401.5" width="1.6" height="2" fill="#3a3a3a"/>
<rect x="558.1999999999999" y="405.7" width="1.6" height="2" fill="#3a3a3a"/>
<rect x="558.1999999999999" y="409.9" width="1.6" height="2" fill="#3a3a3a"/>
<rect x="558.1999999999999" y="414.1" width="1.6" height="2" fill="#3a3a3a"/>
<text x="547.5" y="443.2" font-size="10.3" font-weight="bold" fill="#d9dee1" textLength="29.3" lengthAdjust="spacingAndGlyphs">HDMI2</text>
<path d="M608.8 364.40000000000003 H623.1999999999999 Q624.6999999999999 364.40000000000003 624.6999999999999 365.90000000000003 V427.2 Q624.6999999999999 428.7 623.1999999999999 428.7 H609.3 L606.3 421.3 L601.0999999999999 416.8 V376.3 L606.3 371.8 Z" fill="none" stroke="#27313a" stroke-width="3" stroke-linejoin="round"/>
<path d="M608.8 364.40000000000003 H623.1999999999999 Q624.6999999999999 364.40000000000003 624.6999999999999 365.90000000000003 V427.2 Q624.6999999999999 428.7 623.1999999999999 428.7 H609.3 L606.3 421.3 L601.0999999999999 416.8 V376.3 L606.3 371.8 Z" fill="#0d0d0d" stroke="#cfd2d4" stroke-width="1.5" stroke-linejoin="round"/>
<rect x="608.8" y="373.8" width="6" height="45" rx="3" fill="#1e1e1e"/>
<rect x="611.0999999999999" y="376.3" width="1.6" height="2" fill="#3a3a3a"/>
<rect x="611.0999999999999" y="380.5" width="1.6" height="2" fill="#3a3a3a"/>
<rect x="611.0999999999999" y="384.7" width="1.6" height="2" fill="#3a3a3a"/>
<rect x="611.0999999999999" y="388.9" width="1.6" height="2" fill="#3a3a3a"/>
<rect x="611.0999999999999" y="393.1" width="1.6" height="2" fill="#3a3a3a"/>
<rect x="611.0999999999999" y="397.3" width="1.6" height="2" fill="#3a3a3a"/>
<rect x="611.0999999999999" y="401.5" width="1.6" height="2" fill="#3a3a3a"/>
<rect x="611.0999999999999" y="405.7" width="1.6" height="2" fill="#3a3a3a"/>
<rect x="611.0999999999999" y="409.9" width="1.6" height="2" fill="#3a3a3a"/>
<rect x="611.0999999999999" y="414.1" width="1.6" height="2" fill="#3a3a3a"/>
<text x="600.1" y="443.2" font-size="10.3" font-weight="bold" fill="#d9dee1" textLength="29.3" lengthAdjust="spacingAndGlyphs">HDMI3</text>
<path d="M661.5 364.40000000000003 H675.9 Q677.4 364.40000000000003 677.4 365.90000000000003 V427.2 Q677.4 428.7 675.9 428.7 H662.0 L659.0 421.3 L653.8 416.8 V376.3 L659.0 371.8 Z" fill="none" stroke="#27313a" stroke-width="3" stroke-linejoin="round"/>
<path d="M661.5 364.40000000000003 H675.9 Q677.4 364.40000000000003 677.4 365.90000000000003 V427.2 Q677.4 428.7 675.9 428.7 H662.0 L659.0 421.3 L653.8 416.8 V376.3 L659.0 371.8 Z" fill="#0d0d0d" stroke="#cfd2d4" stroke-width="1.5" stroke-linejoin="round"/>
<rect x="661.5" y="373.8" width="6" height="45" rx="3" fill="#1e1e1e"/>
<rect x="663.8" y="376.3" width="1.6" height="2" fill="#3a3a3a"/>
<rect x="663.8" y="380.5" width="1.6" height="2" fill="#3a3a3a"/>
<rect x="663.8" y="384.7" width="1.6" height="2" fill="#3a3a3a"/>
<rect x="663.8" y="388.9" width="1.6" height="2" fill="#3a3a3a"/>
<rect x="663.8" y="393.1" width="1.6" height="2" fill="#3a3a3a"/>
<rect x="663.8" y="397.3" width="1.6" height="2" fill="#3a3a3a"/>
<rect x="663.8" y="401.5" width="1.6" height="2" fill="#3a3a3a"/>
<rect x="663.8" y="405.7" width="1.6" height="2" fill="#3a3a3a"/>
<rect x="663.8" y="409.9" width="1.6" height="2" fill="#3a3a3a"/>
<rect x="663.8" y="414.1" width="1.6" height="2" fill="#3a3a3a"/>
<text x="652.8" y="443.2" font-size="10.3" font-weight="bold" fill="#d9dee1" textLength="29.3" lengthAdjust="spacingAndGlyphs">HDMI4</text>
<rect x="702.1" y="366.6" width="59.3" height="65.4" rx="3.5" fill="#a8a8a8" stroke="#20252a" stroke-width="2.2"/>
<rect x="703.6" y="367.90000000000003" width="56.3" height="3" fill="#3a3d40"/>
<rect x="705.1" y="370.90000000000003" width="53.3" height="21.4" fill="#b2b2b2" stroke="#2e3235" stroke-width="1.2"/>
<rect x="708.1" y="372.20000000000005" width="48" height="7.8" rx="1" fill="#2d4d7f"/>
<rect x="703.6" y="392.3" width="56.3" height="13.6" fill="#a4a5a6"/>
<rect x="705.1" y="406.90000000000003" width="53.3" height="22" fill="#b2b2b2" stroke="#2e3235" stroke-width="1.2"/>
<rect x="708.1" y="410.20000000000005" width="48" height="7.4" rx="1" fill="#2b5ca6"/>
<rect x="714.6" y="380.6" width="4.2" height="4.4" fill="#c9c9c9" stroke="#4a4a4a" stroke-width="0.8"/>
<rect x="714.6" y="418.20000000000005" width="4.2" height="4.4" fill="#c9c9c9" stroke="#4a4a4a" stroke-width="0.8"/>
<rect x="724.6" y="380.6" width="4.2" height="4.4" fill="#c9c9c9" stroke="#4a4a4a" stroke-width="0.8"/>
<rect x="724.6" y="418.20000000000005" width="4.2" height="4.4" fill="#c9c9c9" stroke="#4a4a4a" stroke-width="0.8"/>
<rect x="734.6" y="380.6" width="4.2" height="4.4" fill="#c9c9c9" stroke="#4a4a4a" stroke-width="0.8"/>
<rect x="734.6" y="418.20000000000005" width="4.2" height="4.4" fill="#c9c9c9" stroke="#4a4a4a" stroke-width="0.8"/>
<rect x="744.6" y="380.6" width="4.2" height="4.4" fill="#c9c9c9" stroke="#4a4a4a" stroke-width="0.8"/>
<rect x="744.6" y="418.20000000000005" width="4.2" height="4.4" fill="#c9c9c9" stroke="#4a4a4a" stroke-width="0.8"/>
<rect x="777.3" y="366.6" width="59.3" height="65.4" rx="3.5" fill="#a8a8a8" stroke="#20252a" stroke-width="2.2"/>
<rect x="778.8" y="367.90000000000003" width="56.3" height="3" fill="#3a3d40"/>
<rect x="780.3" y="370.90000000000003" width="53.3" height="21.4" fill="#b2b2b2" stroke="#2e3235" stroke-width="1.2"/>
<rect x="783.3" y="372.20000000000005" width="48" height="7.8" rx="1" fill="#2d4d7f"/>
<rect x="778.8" y="392.3" width="56.3" height="13.6" fill="#a4a5a6"/>
<rect x="780.3" y="406.90000000000003" width="53.3" height="22" fill="#b2b2b2" stroke="#2e3235" stroke-width="1.2"/>
<rect x="783.3" y="410.20000000000005" width="48" height="7.4" rx="1" fill="#2b5ca6"/>
<rect x="789.8" y="380.6" width="4.2" height="4.4" fill="#c9c9c9" stroke="#4a4a4a" stroke-width="0.8"/>
<rect x="789.8" y="418.20000000000005" width="4.2" height="4.4" fill="#c9c9c9" stroke="#4a4a4a" stroke-width="0.8"/>
<rect x="799.8" y="380.6" width="4.2" height="4.4" fill="#c9c9c9" stroke="#4a4a4a" stroke-width="0.8"/>
<rect x="799.8" y="418.20000000000005" width="4.2" height="4.4" fill="#c9c9c9" stroke="#4a4a4a" stroke-width="0.8"/>
<rect x="809.8" y="380.6" width="4.2" height="4.4" fill="#c9c9c9" stroke="#4a4a4a" stroke-width="0.8"/>
<rect x="809.8" y="418.20000000000005" width="4.2" height="4.4" fill="#c9c9c9" stroke="#4a4a4a" stroke-width="0.8"/>
<rect x="819.8" y="380.6" width="4.2" height="4.4" fill="#c9c9c9" stroke="#4a4a4a" stroke-width="0.8"/>
<rect x="819.8" y="418.20000000000005" width="4.2" height="4.4" fill="#c9c9c9" stroke="#4a4a4a" stroke-width="0.8"/>
<text x="720.6" y="360.1" font-size="11.3" font-weight="bold" fill="#eef1f3" textLength="12.4" lengthAdjust="spacingAndGlyphs">SS</text>
<g stroke="#eef1f3" stroke-width="1" fill="#eef1f3"><path d="M735.3000000000001 356.70000000000005 H746.3000000000001" fill="none"/><circle cx="735.4000000000001" cy="356.70000000000005" r="1.5" stroke="none"/><path d="M745.8000000000001 355.1 L748.4000000000001 356.70000000000005 L745.8000000000001 358.30000000000007 Z" stroke="none"/><path d="M737.8000000000001 356.70000000000005 L740.3000000000001 353.70000000000005 H742.8000000000001" fill="none"/><circle cx="743.2" cy="353.70000000000005" r="1.2" stroke="none"/><path d="M739.3000000000001 356.70000000000005 L741.8000000000001 359.70000000000005 H743.8000000000001" fill="none"/><rect x="743.4000000000001" y="358.6" width="2.2" height="2.2" stroke="none"/></g>
<text x="798.2" y="360.1" font-size="11.3" font-weight="bold" fill="#eef1f3" textLength="12.4" lengthAdjust="spacingAndGlyphs">SS</text>
<g stroke="#eef1f3" stroke-width="1" fill="#eef1f3"><path d="M812.9000000000001 356.70000000000005 H823.9000000000001" fill="none"/><circle cx="813.0000000000001" cy="356.70000000000005" r="1.5" stroke="none"/><path d="M823.4000000000001 355.1 L826.0000000000001 356.70000000000005 L823.4000000000001 358.30000000000007 Z" stroke="none"/><path d="M815.4000000000001 356.70000000000005 L817.9000000000001 353.70000000000005 H820.4000000000001" fill="none"/><circle cx="820.8000000000001" cy="353.70000000000005" r="1.2" stroke="none"/><path d="M816.9000000000001 356.70000000000005 L819.4000000000001 359.70000000000005 H821.4000000000001" fill="none"/><rect x="821.0000000000001" y="358.6" width="2.2" height="2.2" stroke="none"/></g>
<rect x="850.9" y="419.6" width="42" height="17.6" rx="8" fill="#1b2127"/>
<rect x="852.0" y="420.70000000000005" width="39.8" height="15.400000000000002" rx="7" fill="#cdd1d4"/>
<rect x="853.4" y="422.0" width="37" height="12.400000000000002" rx="5.8" fill="#090909"/>
<rect x="857.9" y="426.50000000000006" width="28" height="3.4" rx="1.7" fill="#262626"/>
<rect x="788.3" y="441.6" width="40" height="16.2" rx="8" fill="#1b2127"/>
<rect x="789.4" y="442.70000000000005" width="37.8" height="14.0" rx="7" fill="#cdd1d4"/>
<rect x="790.8" y="444.0" width="35" height="11.0" rx="5.8" fill="#090909"/>
<rect x="795.3" y="447.80000000000007" width="26" height="3.4" rx="1.7" fill="#262626"/>
<text x="862.7" y="449.1" font-size="10.3" font-weight="bold" fill="#d9dee1" textLength="17.8" lengthAdjust="spacingAndGlyphs">OTG</text>
<text x="792.0" y="469.0" font-size="10.3" font-weight="bold" fill="#d9dee1" textLength="32.9" lengthAdjust="spacingAndGlyphs">DEBUG</text>
<text x="892.9" y="347.4" font-size="10.3" font-weight="bold" fill="#d9dee1" textLength="21.1" lengthAdjust="spacingAndGlyphs">WIFI</text>
<text x="958.4" y="347.4" font-size="10.3" font-weight="bold" fill="#d9dee1" textLength="21.1" lengthAdjust="spacingAndGlyphs">WIFI</text>
<polygon points="903.9,350.3 886.5,360.3 886.5,380.4 903.9,390.5 921.3,380.4 921.3,360.3" fill="#cdc9c0" stroke="#8d8a83" stroke-width="0.6"/>
<circle cx="903.9" cy="370.4" r="13.1" fill="#d6d3cb" stroke="#34342f" stroke-width="1"/>
<circle cx="903.9" cy="370.4" r="10.5" fill="#e9e8e4" stroke="#2a2a28" stroke-width="1.2"/>
<circle cx="903.9" cy="370.4" r="8.9" fill="#ffffff"/>
<circle cx="903.9" cy="370.4" r="2.2" fill="#d0d0d0" stroke="#6a6a6a" stroke-width="1"/>
<polygon points="968.6,350.3 951.2,360.3 951.2,380.4 968.6,390.5 986.0,380.4 986.0,360.3" fill="#cdc9c0" stroke="#8d8a83" stroke-width="0.6"/>
<circle cx="968.6" cy="370.4" r="13.1" fill="#d6d3cb" stroke="#34342f" stroke-width="1"/>
<circle cx="968.6" cy="370.4" r="10.5" fill="#e9e8e4" stroke="#2a2a28" stroke-width="1.2"/>
<circle cx="968.6" cy="370.4" r="8.9" fill="#ffffff"/>
<circle cx="968.6" cy="370.4" r="2.2" fill="#d0d0d0" stroke="#6a6a6a" stroke-width="1"/>
<text x="915.2" y="408.3" font-size="10.3" font-weight="bold" fill="#d9dee1" textLength="30.0" lengthAdjust="spacingAndGlyphs">AUDIO</text>
<circle cx="929.3" cy="425" r="12.2" fill="#0a0a0a"/>
<circle cx="929.3" cy="425" r="9.2" fill="none" stroke="#3c3c3c" stroke-width="1.2"/>
<path d="M923 434.3 Q929.3 437.5 935.6 434.3" stroke="#d0d0d0" stroke-width="1" fill="none"/>
<circle cx="1002.2" cy="413.2" r="16.2" fill="#0d0d0e"/>
<circle cx="1002.2" cy="413.2" r="11.6" fill="none" stroke="#2c2c2d" stroke-width="1.8" stroke-dasharray="10 8.2" stroke-dashoffset="-4"/>
<rect x="990" y="411.5" width="1.4" height="6.5" rx="0.7" fill="#8a8a8a"/>
<rect x="1013.5" y="414" width="1.4" height="4" rx="0.7" fill="#7a7a7a"/>
<text x="993.7" y="445.8" font-size="10.3" font-weight="bold" fill="#d9dee1" textLength="17.1" lengthAdjust="spacingAndGlyphs">24V</text>
<rect x="993.9" y="447.7" width="17.1" height="1.3" fill="#dfe4e7"/>
<path d="M993.9 451.15 H1011" stroke="#dfe4e7" stroke-width="1.4" stroke-dasharray="4 2.55"/>
<rect x="912.6" y="442.3" width="54.3" height="5.9" fill="#060606"/>
<path d="M900.3 439.9 H906.9 L908.9 441.9 V451.9 Q908.9 452.9 907.9 452.9 H900.3 Q899.3 452.9 899.3 451.9 V440.9 Q899.3 439.9 900.3 439.9 Z" fill="#b7c1c9"/>
<rect x="901.8" y="441.5" width="4.9" height="5.8" rx="0.8" fill="#e3e8eb"/>
<path d="M901.4 449 H907 M901.4 451 H907" stroke="#93a0aa" stroke-width="0.7"/>
<text x="917.0" y="462.6" font-size="10.3" font-weight="bold" fill="#d9dee1" textLength="46.0" lengthAdjust="spacingAndGlyphs">SIM CARD</text>
<path d="M713.6 470.1 H770.4 V510.1 C770.4 529.1 759.4 537.3000000000001 742.0 537.3000000000001 C724.6 537.3000000000001 713.6 529.1 713.6 510.1 Z" fill="#27818d" stroke="#0f2a30" stroke-width="1.4"/>
<rect x="714.3000000000001" y="470.6" width="55.4" height="2.2" fill="#17525b"/>
<rect x="717.7" y="475.1" width="47.7" height="39.3" fill="url(#gmslG)"/>
<rect x="730.3000000000001" y="514.1" width="21.4" height="13" fill="#0f1d20"/>
<circle cx="732.8000000000001" cy="486.0" r="5.4" fill="none" stroke="#dfe7e8" stroke-width="0.8"/>
<circle cx="750.4" cy="486.0" r="5.4" fill="none" stroke="#dfe7e8" stroke-width="0.8"/>
<circle cx="732.8000000000001" cy="503.6" r="5.4" fill="none" stroke="#dfe7e8" stroke-width="0.8"/>
<circle cx="750.4" cy="503.6" r="5.4" fill="none" stroke="#dfe7e8" stroke-width="0.8"/>
<path d="M836.0 470.1 H892.8 V510.1 C892.8 529.1 881.8 537.3000000000001 864.4 537.3000000000001 C847.0 537.3000000000001 836.0 529.1 836.0 510.1 Z" fill="#27818d" stroke="#0f2a30" stroke-width="1.4"/>
<rect x="836.7" y="470.6" width="55.4" height="2.2" fill="#17525b"/>
<rect x="840.1" y="475.1" width="47.7" height="39.3" fill="url(#gmslG)"/>
<rect x="852.7" y="514.1" width="21.4" height="13" fill="#0f1d20"/>
<circle cx="855.2" cy="486.0" r="5.4" fill="none" stroke="#dfe7e8" stroke-width="0.8"/>
<circle cx="872.8" cy="486.0" r="5.4" fill="none" stroke="#dfe7e8" stroke-width="0.8"/>
<circle cx="855.2" cy="503.6" r="5.4" fill="none" stroke="#dfe7e8" stroke-width="0.8"/>
<circle cx="872.8" cy="503.6" r="5.4" fill="none" stroke="#dfe7e8" stroke-width="0.8"/>
<text x="664.0" y="513.6" font-size="10.3" font-weight="bold" fill="#d9dee1" textLength="40.5" lengthAdjust="spacingAndGlyphs">GMSL2-1</text>
<text x="901.4" y="513.6" font-size="10.3" font-weight="bold" fill="#d9dee1" textLength="42.4" lengthAdjust="spacingAndGlyphs">GMSL2-2</text>
<rect x="200.7" y="384.1" width="273.7" height="53.19999999999999" fill="none" stroke="#ED7C2E" stroke-width="4"/>
<path d="M337.2 114 V384" fill="none" stroke="#ED7C2E" stroke-width="4.0" stroke-linejoin="miter"/>
<rect x="260.2" y="470.2" width="288.2" height="53.400000000000034" fill="none" stroke="#ED7C2E" stroke-width="4"/>
<path d="M404.5 524 V623" fill="none" stroke="#ED7C2E" stroke-width="4.0" stroke-linejoin="miter"/>
<rect x="491.3" y="361.3" width="189.7" height="71.09999999999997" fill="none" stroke="#ED7C2E" stroke-width="4"/>
<path d="M508.2 114 V361" fill="none" stroke="#ED7C2E" stroke-width="4.0" stroke-linejoin="miter"/>
<rect x="699.4" y="363.6" width="140.80000000000007" height="72.39999999999998" fill="none" stroke="#ED7C2E" stroke-width="4"/>
<path d="M717.1 117.3 V363" fill="none" stroke="#ED7C2E" stroke-width="4.0" stroke-linejoin="miter"/>
<path d="M870.4 110.8 V428" fill="none" stroke="#ED7C2E" stroke-width="4.0" stroke-linejoin="miter"/>
<circle cx="870.6" cy="428" r="7.5" fill="#ED7C2E"/>
<path d="M808.4 449.8 H610.6 V623" fill="none" stroke="#ED7C2E" stroke-width="4.0" stroke-linejoin="miter"/>
<circle cx="808.4" cy="449.8" r="7.5" fill="#ED7C2E"/>
<rect x="711.5" y="467.1" width="182.79999999999995" height="72.89999999999998" fill="none" stroke="#ED7C2E" stroke-width="4"/>
<path d="M803 540 V623" fill="none" stroke="#ED7C2E" stroke-width="4.0" stroke-linejoin="miter"/>
<rect x="883.0" y="348.9" width="105.29999999999995" height="44.700000000000045" fill="none" stroke="#ED7C2E" stroke-width="4"/>
<path d="M959.3 110.9 V349" fill="none" stroke="#ED7C2E" stroke-width="4.0" stroke-linejoin="miter"/>
<path d="M1003.5 412.4 H1158.5 V109.9" fill="none" stroke="#ED7C2E" stroke-width="4.0" stroke-linejoin="miter"/>
<circle cx="1003.4" cy="413.2" r="7.5" fill="#ED7C2E"/>
<path d="M930.2 424.3 H1119.1 V626.3" fill="none" stroke="#ED7C2E" stroke-width="4.0" stroke-linejoin="miter"/>
<circle cx="930.3" cy="425" r="7.5" fill="#ED7C2E"/>
<path d="M940 445 V657.7" fill="none" stroke="#ED7C2E" stroke-width="4.0" stroke-linejoin="miter"/>
<circle cx="940.2" cy="445" r="7.5" fill="#ED7C2E"/>
<text x="274.7" y="58.9" font-size="31.2" fill="#ED7C2E" textLength="124.5" lengthAdjust="spacingAndGlyphs">4×10GbE</text>
<text x="288.3" y="92.7" font-size="28.8" fill="#4B5058" textLength="97.4" lengthAdjust="spacingAndGlyphs">10Gbps</text>
<text x="431.5" y="58.9" font-size="31.2" fill="#ED7C2E" textLength="152.4" lengthAdjust="spacingAndGlyphs">4×HDMI2.0</text>
<text x="447.3" y="92.7" font-size="28.8" fill="#4B5058" textLength="122.0" lengthAdjust="spacingAndGlyphs">4K@60Hz</text>
<text x="609.2" y="60.5" font-size="31.2" fill="#ED7C2E" textLength="134.8" lengthAdjust="spacingAndGlyphs">4×USB3.0</text>
<text x="638.3" y="94.5" font-size="28.8" fill="#4B5058" textLength="106.0" lengthAdjust="spacingAndGlyphs">Max: 1A</text>
<text x="777.9" y="58.9" font-size="31.2" fill="#ED7C2E" textLength="101.1" lengthAdjust="spacingAndGlyphs">Type-C</text>
<text x="825.2" y="92.7" font-size="28.8" fill="#4B5058" textLength="52.7" lengthAdjust="spacingAndGlyphs">OTG</text>
<text x="898.1" y="95.0" font-size="31.2" fill="#ED7C2E" textLength="159.8" lengthAdjust="spacingAndGlyphs">2×WiFi ANT</text>
<text x="1074.1" y="27.6" font-size="31.2" fill="#ED7C2E" textLength="99.1" lengthAdjust="spacingAndGlyphs">DC 24V</text>
<text x="1074.5" y="62.7" font-size="28.8" fill="#4B5058" textLength="207.1" lengthAdjust="spacingAndGlyphs">5.5mm×2.1mm,</text>
<text x="1074.3" y="95.0" font-size="28.8" fill="#4B5058" textLength="281.5" lengthAdjust="spacingAndGlyphs">support 9V~36V input</text>
<text x="359.2" y="659.7" font-size="31.2" fill="#ED7C2E" textLength="90.2" lengthAdjust="spacingAndGlyphs">4×GbE</text>
<text x="324.3" y="694.0" font-size="28.8" fill="#4B5058" textLength="159.9" lengthAdjust="spacingAndGlyphs">Support PSE</text>
<text x="559.8" y="659.7" font-size="31.2" fill="#ED7C2E" textLength="100.8" lengthAdjust="spacingAndGlyphs">Type-C</text>
<text x="566.3" y="693.5" font-size="28.8" fill="#4B5058" textLength="87.2" lengthAdjust="spacingAndGlyphs">Debug</text>
<text x="738.0" y="659.7" font-size="31.2" fill="#ED7C2E" textLength="129.8" lengthAdjust="spacingAndGlyphs">8×GMSL2</text>
<text x="836.5" y="700.4" font-size="31.2" fill="#ED7C2E" textLength="124.9" lengthAdjust="spacingAndGlyphs">SIM Card</text>
<text x="981.0" y="661.8" font-size="31.2" fill="#ED7C2E" textLength="256.3" lengthAdjust="spacingAndGlyphs">3.5mm Audio jack</text>
<text x="981.0" y="695.8" font-size="28.8" fill="#4B5058" textLength="367.1" lengthAdjust="spacingAndGlyphs">Support MIC recording, CTIA</text>
</svg>
</body>
</html>
